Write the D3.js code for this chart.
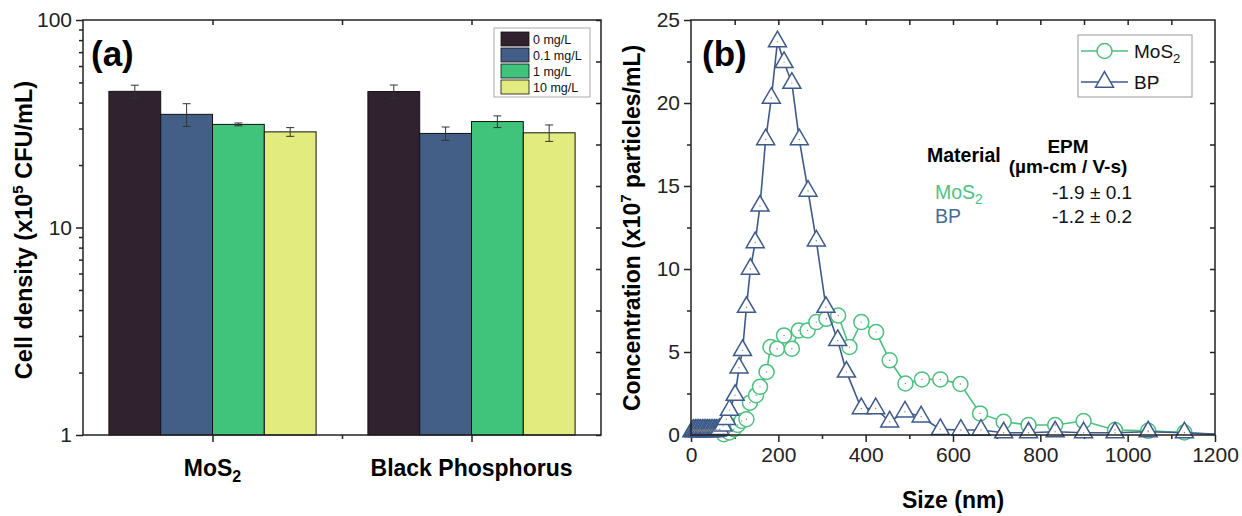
<!DOCTYPE html>
<html>
<head>
<meta charset="utf-8">
<script src="https://cdn.jsdelivr.net/npm/d3@7"></script>
<style>
body{margin:0;background:#fff;}
text{font-family:Arial,"Liberation Sans",sans-serif;}
.axis path{display:none;}
.axis line{stroke:#222;stroke-width:1.5;}
.axis text{font-size:21px;fill:#222;}
</style>
</head>
<body>
<script>
// panel (a) data
var groups=['MoS2','Black Phosphorus'];
var doses=['0 mg/L','0.1 mg/L','1 mg/L','10 mg/L'];
var mosMeans=[45.3,35.1,31.4,28.9];
var mosErr=[3.2,4.4,0.5,1.4];
var bpMeans=[45.2,28.4,32.4,28.6];
var bpErr=[3.4,2.1,2.1,2.6];
var yTicksA=[1,10,100];

// panel (b) data
var mosSize=[0,30,60,75,88,98,107,116,127,135,149,158,173,182,197,213,231,247,267,287,310,337,363,390,424,455,491,529,571,617,662,716,773,834,899,971,1047,1130,1200];
var mosConc=[0,0,0.02,0.05,0.15,0.35,0.6,0.85,0.95,1.95,2.4,2.9,3.8,5.3,5.2,6.0,5.2,6.3,6.3,6.8,7.0,7.2,5.3,6.8,6.2,4.5,3.1,3.35,3.35,3.07,1.3,0.8,0.6,0.6,0.84,0.3,0.25,0.15,0.02];
var bpSize=[2,4,6,8,10,12,14,16,18,20,22,24,26,28,30,32,34,36,38,40,42,44,46,48,50,52,54,56,58,60,62,66,73,81,88,101,110,118,127,136,147,158,171,184,198,213,231,248,268,287,309,336,356,390,423,455,490,527,571,618,664,716,773,834,899,971,1047,1130,1200];
var bpConc=[0.2,0.25,0.3,0.2,0.3,0.25,0.3,0.2,0.3,0.25,0.3,0.2,0.3,0.25,0.3,0.2,0.3,0.25,0.3,0.25,0.3,0.2,0.3,0.25,0.3,0.2,0.3,0.25,0.3,0.25,0.3,0.35,0.55,0.95,1.5,2.4,4.05,5.1,7.7,10.0,11.6,13.8,17.8,20.3,23.7,22.45,21.2,17.8,14.7,11.7,7.7,5.7,3.8,1.6,1.6,0.8,1.4,1.1,0.34,0.3,0.3,0.14,0.14,0.2,0.14,0.14,0.2,0.14,0.05];
var yTicksB=[0,5,10,15,20,25];
var xTicksB=[0,200,400,600,800,1000,1200];

var barColors=['#30232f','#445f87','#40c47b','#e2ec7e'];
var green='#4dbf7f', blue='#3e5a88';

var width=1242, height=516;
var svg=d3.select('body').append('svg').attr('width',width).attr('height',height);

// ---------- panel (a) ----------
var aL=83,aR=601,aT=20,aB=435;
var xA=d3.scaleLinear().domain([0.5,2.5]).range([aL,aR]);
var yA=d3.scaleLog().domain([1,100]).range([aB,aT]);
var inner=d3.scaleBand().domain(doses).range([-0.4,0.4]);
var means=[mosMeans,bpMeans], errs=[mosErr,bpErr];

var ga=svg.append('g');
groups.forEach(function(g,i){
    var rows=doses.map(function(d,j){return {dose:d,v:means[i][j],e:errs[i][j],c:barColors[j]};});
    var gg=ga.append('g');
    gg.selectAll('rect').data(rows).enter().append('rect')
        .attr('x',d=>xA(i+1+inner(d.dose)))
        .attr('width',d=>xA(i+1+inner(d.dose)+inner.bandwidth())-xA(i+1+inner(d.dose)))
        .attr('y',d=>yA(d.v)).attr('height',d=>aB-yA(d.v))
        .attr('fill',d=>d.c).attr('stroke','#111').attr('stroke-width',1);
    var eb=gg.selectAll('g.err').data(rows).enter().append('g').attr('class','err')
        .attr('stroke','#333').attr('stroke-width',1);
    var cx=d=>xA(i+1+inner(d.dose)+inner.bandwidth()/2);
    eb.append('line').attr('x1',cx).attr('x2',cx).attr('y1',d=>yA(d.v-d.e)).attr('y2',d=>yA(d.v+d.e));
    eb.append('line').attr('x1',d=>cx(d)-4).attr('x2',d=>cx(d)+4).attr('y1',d=>yA(d.v-d.e)).attr('y2',d=>yA(d.v-d.e));
    eb.append('line').attr('x1',d=>cx(d)-4).attr('x2',d=>cx(d)+4).attr('y1',d=>yA(d.v+d.e)).attr('y2',d=>yA(d.v+d.e));
});

var minorA=[2,3,4,5,6,7,8,9,20,30,40,50,60,70,80,90];
ga.append('g').attr('class','axis').attr('transform',`translate(${aL},0)`)
    .call(d3.axisLeft(yA).tickValues(yTicksA).tickFormat(d3.format('d')).tickSize(7).tickPadding(4));
ga.append('g').attr('class','axis').attr('transform',`translate(${aL},0)`)
    .call(d3.axisLeft(yA).tickValues(minorA).tickFormat('').tickSize(4));
ga.append('g').attr('class','axis').attr('transform',`translate(${aR},0)`)
    .call(d3.axisLeft(yA).tickValues(d3.range(0,11).map(k=>Math.pow(10,k/5))).tickFormat('').tickSize(5));
ga.append('g').attr('class','axis').attr('transform',`translate(0,${aB})`)
    .call(d3.axisBottom(xA).tickValues([1,2]).tickFormat('').tickSize(7));
ga.append('g').attr('class','axis').attr('transform',`translate(0,${aB})`)
    .call(d3.axisBottom(xA).tickValues([1.5]).tickFormat('').tickSize(4));
ga.append('g').attr('class','axis').attr('transform',`translate(0,${aT})`)
    .call(d3.axisBottom(xA).tickValues([1,1.5,2]).tickFormat('').tickSize(5));
ga.append('rect').attr('x',aL).attr('y',aT).attr('width',aR-aL).attr('height',aB-aT)
    .attr('fill','none').attr('stroke','#222').attr('stroke-width',1.5);

// category labels
var cl=ga.append('g').attr('font-size',23).attr('font-weight','bold').attr('text-anchor','middle');
var t1=cl.append('text').attr('x',xA(1)).attr('y',aB+41);
t1.append('tspan').text('MoS');
t1.append('tspan').attr('font-size',16).attr('dy',6).text('2');
cl.append('text').attr('x',xA(2)).attr('y',aB+41).text(groups[1]);

ga.append('text').attr('x',91).attr('y',66).attr('font-size',35).attr('font-weight','bold').text('(a)');

var yl=ga.append('text').attr('transform','translate(32,230) rotate(-90)')
    .attr('text-anchor','middle').attr('font-size',23.5).attr('font-weight','bold');
yl.append('tspan').text('Cell density (x10');
yl.append('tspan').attr('font-size',15).attr('dy',-9).text('5');
yl.append('tspan').attr('dy',9).text(' CFU/mL)');

// legend (a)
var lg=ga.append('g');
lg.append('rect').attr('x',494).attr('y',28).attr('width',96).attr('height',69)
    .attr('fill','#fff').attr('stroke','#aaa').attr('stroke-width',1);
var li=lg.selectAll('g.li').data(doses).enter().append('g').attr('class','li')
    .attr('transform',(d,j)=>`translate(501,${32+j*16})`);
li.append('rect').attr('width',28).attr('height',14).attr('fill',(d,j)=>barColors[j])
    .attr('stroke','#111').attr('stroke-width',0.8);
li.append('text').attr('x',32).attr('y',11.5).attr('font-size',12.5).attr('fill','#111').text(d=>d);

// ---------- panel (b) ----------
var bL=691,bR=1215,bT=20,bB=435;
var xB=d3.scaleLinear().domain([0,1200]).range([bL,bR]);
var yB=d3.scaleLinear().domain([0,25]).range([bB,bT]);
var gb=svg.append('g');

gb.append('g').attr('class','axis').attr('transform',`translate(${bL},0)`)
    .call(d3.axisLeft(yB).tickValues(yTicksB).tickSize(7).tickPadding(4));
gb.append('g').attr('class','axis').attr('transform',`translate(${bL},0)`)
    .call(d3.axisLeft(yB).tickValues([2.5,7.5,12.5,17.5,22.5]).tickFormat('').tickSize(4));
gb.append('g').attr('class','axis').attr('transform',`translate(${bR},0)`)
    .call(d3.axisLeft(yB).tickValues([2.5,5,7.5,10,12.5,15,17.5,20,22.5]).tickFormat('').tickSize(5));
gb.append('g').attr('class','axis').attr('transform',`translate(0,${bB})`)
    .call(d3.axisBottom(xB).tickValues(xTicksB).tickFormat(d3.format('d')).tickSize(7).tickPadding(5));
gb.append('g').attr('class','axis').attr('transform',`translate(0,${bB})`)
    .call(d3.axisBottom(xB).tickValues([100,300,500,700,900,1100]).tickFormat('').tickSize(4));
gb.append('g').attr('class','axis').attr('transform',`translate(0,${bT})`)
    .call(d3.axisBottom(xB).tickValues(d3.range(100,1200,100)).tickFormat('').tickSize(5));

var line=d3.line().x(d=>xB(d[0])).y(d=>yB(d[1]));
var mosPts=d3.zip(mosSize,mosConc), bpPts=d3.zip(bpSize,bpConc);
// markers only where the original plot shows them
var mosMarks=mosPts.filter(d=>d[0]>=70&&d[0]<1200), bpMarks=bpPts.filter(d=>d[0]<1200);

gb.append('path').datum(mosPts).attr('d',line).attr('fill','none').attr('stroke',green).attr('stroke-width',1.6);
gb.selectAll('circle.mos').data(mosMarks).enter().append('circle').attr('class','mos')
    .attr('cx',d=>xB(d[0])).attr('cy',d=>yB(d[1])).attr('r',7.5)
    .attr('fill','#fff').attr('stroke',green).attr('stroke-width',1.5);

gb.append('path').datum(bpPts).attr('d',line).attr('fill','none').attr('stroke',blue).attr('stroke-width',1.6);
var tri=d3.symbol().type(d3.symbolTriangle).size(140);
gb.selectAll('path.bp').data(bpMarks).enter().append('path').attr('class','bp')
    .attr('d',tri).attr('transform',d=>`translate(${xB(d[0])},${yB(d[1])})`)
    .attr('fill','#fff').attr('stroke',blue).attr('stroke-width',1.5);
gb.selectAll('circle.dot').data(mosMarks.concat(bpMarks)).enter()
    .append('circle').attr('class','dot').attr('cx',d=>xB(d[0])).attr('cy',d=>yB(d[1])).attr('r',0.7)
    .attr('fill','#888');

gb.append('rect').attr('x',bL).attr('y',bT).attr('width',bR-bL).attr('height',bB-bT)
    .attr('fill','none').attr('stroke','#222').attr('stroke-width',1.5);

gb.append('text').attr('x',702).attr('y',66).attr('font-size',35).attr('font-weight','bold').text('(b)');

gb.append('text').attr('x',(bL+bR)/2).attr('y',508).attr('text-anchor','middle')
    .attr('font-size',23).attr('font-weight','bold').text('Size (nm)');
var yl2=gb.append('text').attr('transform','translate(640,228) rotate(-90)')
    .attr('text-anchor','middle').attr('font-size',23).attr('font-weight','bold');
yl2.append('tspan').text('Concentration (x10');
yl2.append('tspan').attr('font-size',15).attr('dy',-9).text('7');
yl2.append('tspan').attr('dy',9).text(' particles/mL)');

// legend (b)
var lb=gb.append('g');
lb.append('rect').attr('x',1078).attr('y',35).attr('width',114).attr('height',62)
    .attr('fill','#fff').attr('stroke','#999').attr('stroke-width',1);
lb.append('line').attr('x1',1081).attr('x2',1128).attr('y1',51).attr('y2',51).attr('stroke',green).attr('stroke-width',1.6);
lb.append('circle').attr('cx',1104.5).attr('cy',51).attr('r',7.5).attr('fill','#fff').attr('stroke',green).attr('stroke-width',1.5);
lb.append('line').attr('x1',1081).attr('x2',1128).attr('y1',82).attr('y2',82).attr('stroke',blue).attr('stroke-width',1.6);
lb.append('path').attr('d',tri).attr('transform','translate(1104.5,82)').attr('fill','#fff').attr('stroke',blue).attr('stroke-width',1.5);
var lt1=lb.append('text').attr('x',1134).attr('y',58).attr('font-size',19).attr('fill','#111');
lt1.append('tspan').text('MoS');
lt1.append('tspan').attr('font-size',13).attr('dy',5).text('2');
lb.append('text').attr('x',1134).attr('y',89).attr('font-size',19).attr('fill','#111').text('BP');

// EPM table
var tb=gb.append('g');
tb.append('text').attr('x',927).attr('y',162).attr('font-size',19.5).attr('font-weight','bold').text('Material');
tb.append('text').attr('x',1068).attr('y',153).attr('text-anchor','middle').attr('font-size',19).attr('font-weight','bold').text('EPM');
tb.append('text').attr('x',1068).attr('y',173).attr('text-anchor','middle').attr('font-size',19).attr('font-weight','bold').text('(µm-cm / V-s)');
var m1=tb.append('text').attr('x',935).attr('y',199).attr('font-size',19.5).attr('fill','#4dc283');
m1.append('tspan').text('MoS');
m1.append('tspan').attr('font-size',14).attr('dy',5).text('2');
tb.append('text').attr('x',935).attr('y',223).attr('font-size',19.5).attr('fill','#4a6a96').text('BP');
tb.append('text').attr('x',1092).attr('y',199).attr('text-anchor','middle').attr('font-size',19).attr('fill','#111').text('-1.9 ± 0.1');
tb.append('text').attr('x',1092).attr('y',223).attr('text-anchor','middle').attr('font-size',19).attr('fill','#111').text('-1.2 ± 0.2');
</script>
</body>
</html>
